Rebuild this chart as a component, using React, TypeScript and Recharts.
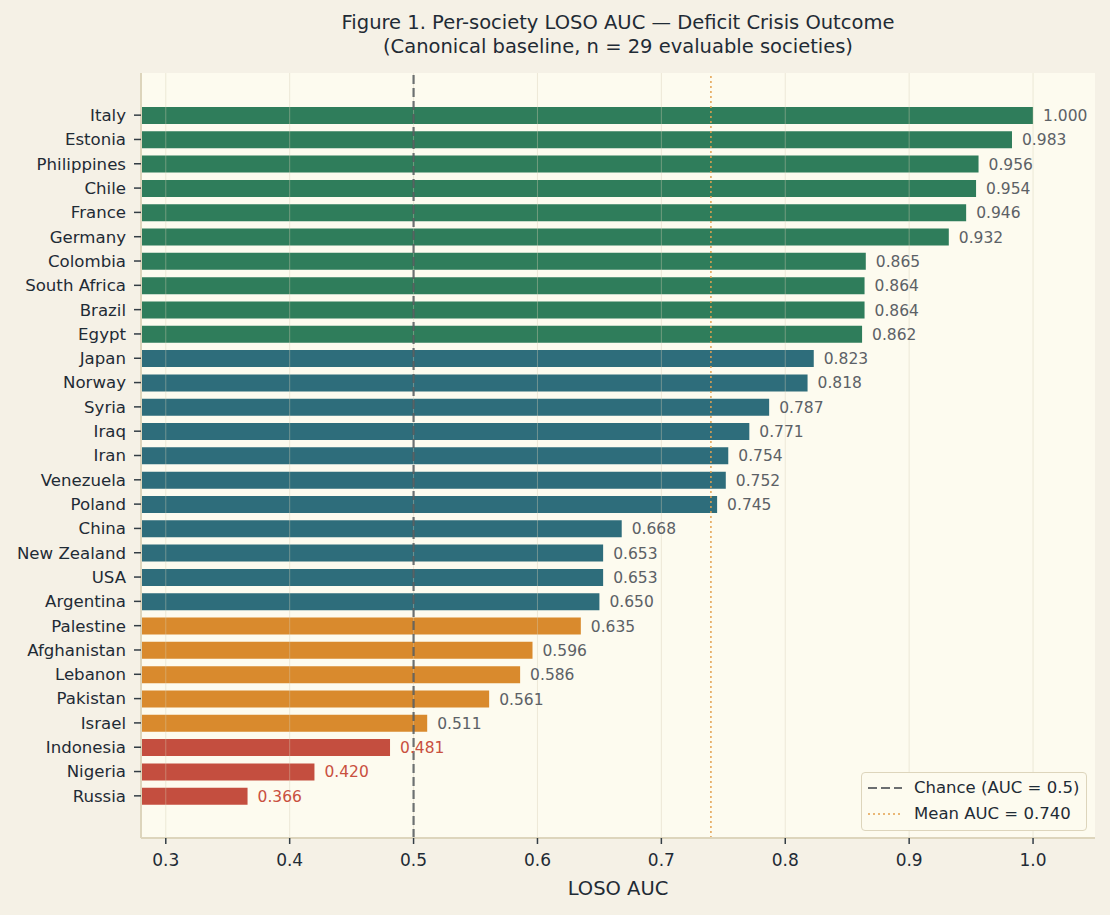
import React from 'react';
import {
  BarChart,
  Bar,
  Cell,
  XAxis,
  YAxis,
  CartesianGrid,
  ReferenceLine,
  LabelList,
} from 'recharts';

const societies = [
  'Italy', 'Estonia', 'Philippines', 'Chile', 'France', 'Germany', 'Colombia',
  'South Africa', 'Brazil', 'Egypt', 'Japan', 'Norway', 'Syria', 'Iraq', 'Iran',
  'Venezuela', 'Poland', 'China', 'New Zealand', 'USA', 'Argentina', 'Palestine',
  'Afghanistan', 'Lebanon', 'Pakistan', 'Israel', 'Indonesia', 'Nigeria', 'Russia',
];

const aucValues = [
  1.0, 0.983, 0.956, 0.954, 0.946, 0.932, 0.865, 0.864, 0.864, 0.862, 0.823,
  0.818, 0.787, 0.771, 0.754, 0.752, 0.745, 0.668, 0.653, 0.653, 0.65, 0.635,
  0.596, 0.586, 0.561, 0.511, 0.481, 0.42, 0.366,
];

const xTicks = [0.3, 0.4, 0.5, 0.6, 0.7, 0.8, 0.9, 1.0];
const CHANCE = 0.5;
const MEAN_AUC = 0.74;

const FONT = '"DejaVu Sans", sans-serif';
const INK = '#1f2b35';

const tierColor = (v: number) => {
  if (v >= 0.85) return '#2f7d5b';
  if (v >= 0.65) return '#2e6d7b';
  if (v >= 0.5) return '#d98a2d';
  return '#c44e3f';
};

const data = societies.map((name, i) => ({ name, value: aucValues[i] }));

const renderValue = (props: any) => {
  const { x, y, width, height, value } = props;
  const red = value < CHANCE;
  return (
    <text
      x={x + width + 10}
      y={y + height / 2}
      dy="0.36em"
      fontSize={15.5}
      fontFamily={FONT}
      fill={red ? '#c9503f' : '#5c6166'}
    >
      {Number(value).toFixed(3)}
    </text>
  );
};

const LegendBox = () => (
  <div
    style={{
      position: 'absolute',
      left: 861,
      top: 772,
      width: 226,
      height: 59,
      boxSizing: 'border-box',
      border: '1.5px solid #ddd5bc',
      borderRadius: 4,
      background: '#fdfbef',
      fontSize: 16.5,
      color: INK,
    }}
  >
    <svg width={40} height={59} style={{ position: 'absolute', left: 4, top: 0 }}>
      <line x1={2} x2={36} y1={15} y2={15} stroke="#6b6e70" strokeWidth={2.2} strokeDasharray="9 4" />
      <line x1={2} x2={36} y1={41} y2={41} stroke="#e3a14f" strokeWidth={1.5} strokeDasharray="2 3" />
    </svg>
    <div style={{ position: 'absolute', left: 52, top: 3, lineHeight: '24px', whiteSpace: 'nowrap' }}>
      Chance (AUC = 0.5)
    </div>
    <div style={{ position: 'absolute', left: 52, top: 29, lineHeight: '24px', whiteSpace: 'nowrap' }}>
      Mean AUC = 0.740
    </div>
  </div>
);

export default function App() {
  return (
    <div
      style={{
        position: 'absolute',
        left: 0,
        top: 0,
        width: 1110,
        height: 915,
        background: '#f5f1e6',
        fontFamily: FONT,
      }}
    >
      <div
        style={{
          position: 'absolute',
          left: 218,
          top: 11,
          width: 800,
          textAlign: 'center',
          fontSize: 19.5,
          lineHeight: '24px',
          color: INK,
        }}
      >
        Figure 1. Per-society LOSO AUC — Deficit Crisis Outcome
        <br />
        (Canonical baseline, n = 29 evaluable societies)
      </div>
      <BarChart
        width={1110}
        height={915}
        data={data}
        layout="vertical"
        margin={{ top: 73, right: 15, bottom: 0, left: 0 }}
        style={{ position: 'absolute', left: 0, top: 0 }}
      >
        <CartesianGrid fill="#fdfbef" horizontal={false} vertical={false} />
        <XAxis
          type="number"
          domain={[0.28, 1.05]}
          ticks={xTicks}
          allowDataOverflow
          tickFormatter={(v: number) => v.toFixed(1)}
          tick={{ fill: INK, fontSize: 17, fontFamily: FONT }}
          tickLine={{ stroke: '#333d45', strokeWidth: 1.5 }}
          tickSize={6}
          tickMargin={10}
          axisLine={{ stroke: '#ddd5bc', strokeWidth: 2 }}
          height={77}
          label={{
            value: 'LOSO AUC',
            position: 'insideBottom',
            offset: 20,
            fill: INK,
            fontSize: 19.5,
            fontFamily: FONT,
          }}
        />
        <YAxis
          type="category"
          dataKey="name"
          width={141}
          interval={0}
          padding={{ top: 30, bottom: 30 }}
          tick={{ fill: INK, fontSize: 16.6, fontFamily: FONT }}
          tickLine={{ stroke: '#333d45', strokeWidth: 1.5 }}
          tickSize={7}
          tickMargin={8}
          axisLine={{ stroke: '#ddd5bc', strokeWidth: 2 }}
        />
        <Bar dataKey="value" barSize={17} isAnimationActive={false}>
          {data.map((d) => (
            <Cell key={d.name} fill={tierColor(d.value)} />
          ))}
          <LabelList dataKey="value" content={renderValue} />
        </Bar>
        {xTicks.map((t) => (
          <ReferenceLine key={t} x={t} stroke="#d5cdb5" strokeOpacity={0.4} strokeWidth={1} />
        ))}
        <ReferenceLine x={CHANCE} stroke="#555a5e" strokeOpacity={0.85} strokeWidth={2.2} strokeDasharray="9 4" />
        <ReferenceLine x={MEAN_AUC} stroke="#e3a14f" strokeWidth={1.5} strokeDasharray="2 3" />
      </BarChart>
      <LegendBox />
    </div>
  );
}
